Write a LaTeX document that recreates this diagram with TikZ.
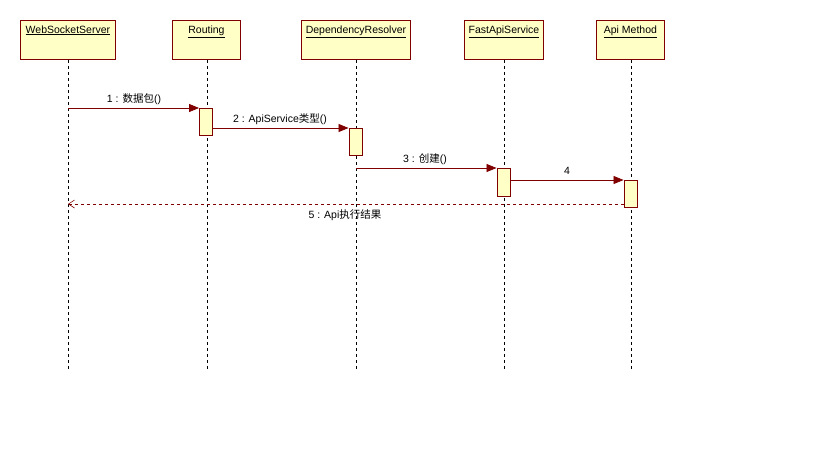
\documentclass[tikz,border=0pt]{standalone}
\usepackage{fontspec}
\setmainfont{Liberation Sans}
\newfontfamily\cjk{Noto Sans CJK SC}
\usetikzlibrary{arrows.meta,calc}
\definecolor{umlred}{HTML}{800000}
\definecolor{umlfill}{HTML}{FFFFC6}
\tikzset{
  objbox/.style={draw=umlred, fill=umlfill, line width=0.9pt, minimum height=39pt, inner sep=0pt, anchor=north west, text depth=0pt},
  actbox/.style={draw=umlred, fill=umlfill, line width=0.9pt, minimum width=13pt, minimum height=27pt, inner sep=0pt, anchor=north},
  lifeline/.style={draw=black, line width=0.7pt, dash pattern=on 3pt off 3pt},
  msg/.style={draw=umlred, line width=0.8pt, -{Triangle[length=10pt,width=8pt]}},
  ret/.style={draw=umlred, line width=0.6pt, dash pattern=on 3pt off 3pt, -{Straight Barb[length=6pt,width=8pt]}},
  lbl/.style={font=\fontsize{10.5}{12}\selectfont, inner sep=1pt},
  ttl/.style={font=\fontsize{10.5}{12}\selectfont},
}
\newcommand{\ul}[1]{\underline{#1}}
\begin{document}
\begin{tikzpicture}[x=1pt,y=-1pt]
\useasboundingbox (0,0) rectangle (819,460);
% participants
\node[objbox, minimum width=95pt] (ws) at (20,20) {};
\node[ttl, anchor=north] at ($(ws.north)+(0,2)$) {\ul{WebSocketServer}};
\node[objbox, minimum width=68pt] (rt) at (172,20) {};
\node[ttl, anchor=north] at ($(rt.north)+(0,2)$) {\ul{Routing}};
\node[objbox, minimum width=109pt] (dr) at (301,20) {};
\node[ttl, anchor=north] at ($(dr.north)+(0,2)$) {\ul{DependencyResolver}};
\node[objbox, minimum width=79pt] (fs) at (464,20) {};
\node[ttl, anchor=north] at ($(fs.north)+(0,2)$) {\ul{FastApiService}};
\node[objbox, minimum width=68pt] (am) at (596,20) {};
\node[ttl, anchor=north] at ($(am.north)+(0,2)$) {\ul{Api Method}};
% lifeline ends
\coordinate (wsE) at (68,369);
\coordinate (rtE) at (207,369);
\coordinate (drE) at (356,369);
\coordinate (fsE) at (504,369);
\coordinate (amE) at (631,369);
\draw[lifeline] (ws.south -| wsE) -- (wsE);
\draw[lifeline] (rt.south -| rtE) -- (rtE);
\draw[lifeline] (dr.south -| drE) -- (drE);
\draw[lifeline] (fs.south -| fsE) -- (fsE);
\draw[lifeline] (am.south -| amE) -- (amE);
% activations
\node[actbox] (a1) at (206,108) {};
\node[actbox] (a2) at (355.5,128) {};
\node[actbox, minimum height=28pt] (a3) at (503.5,168) {};
\node[actbox] (a4) at (630.5,180) {};
% messages
\coordinate (m1) at (wsE |- a1.north);
\draw[msg] (m1) -- (a1.north west);
\node[lbl] at (134,99) {1 : {\cjk 数据包}()};
\draw[msg] (a1.east |- a2.north) -- (a2.north west);
\node[lbl] at (280,119) {2 : ApiService{\cjk 类型}()};
\coordinate (m3) at (drE |- a3.north);
\draw[msg] (m3) -- (a3.north west);
\node[lbl] at (425,159) {3 : {\cjk 创建}()};
\draw[msg] (a3.east |- a4.north) -- (a4.north west);
\node[lbl] at (567,171) {4};
\coordinate (m5s) at (624,204);
\coordinate (m5e) at (wsE |- m5s);
\draw[ret] (m5s) -- (m5e);
\node[lbl] at (345,215) {5 : Api{\cjk 执行结果}};
\end{tikzpicture}
\end{document}
